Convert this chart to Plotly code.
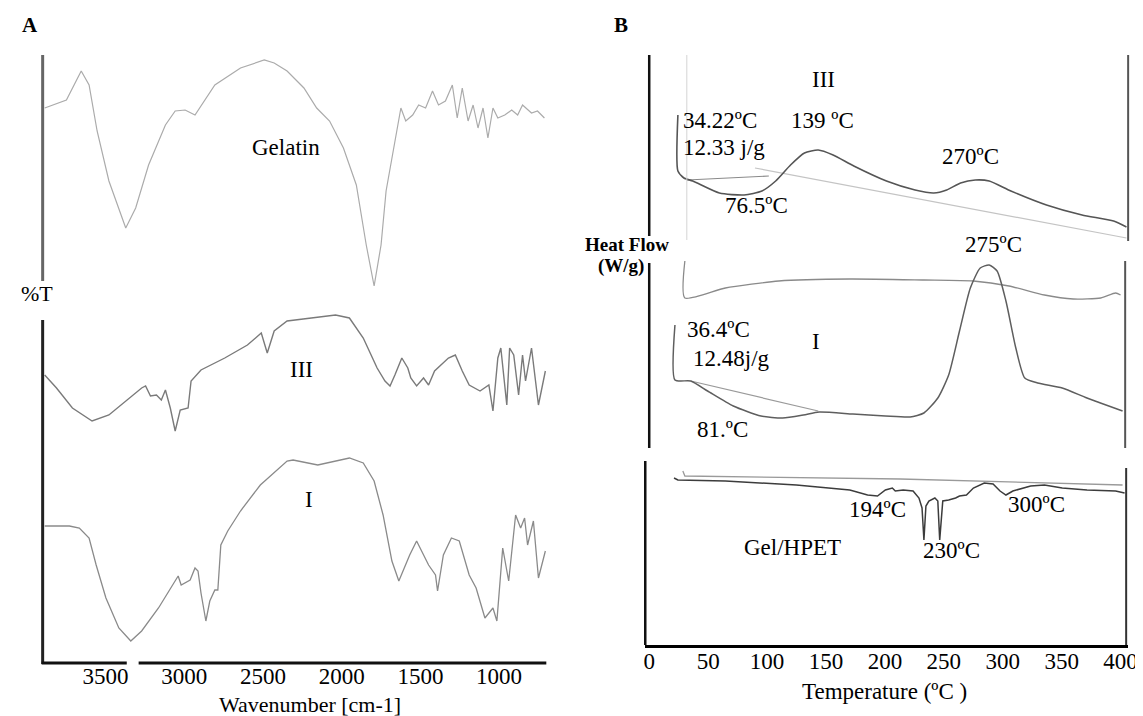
import plotly.graph_objects as go

W, H = 1143, 716
FONT = "Liberation Serif"

# ---------------- Panel A: FTIR spectra (wavenumber cm-1, relative %T, stacked) ----------------
gelatin_wn = [3887, 3749, 3655, 3605, 3554, 3479, 3372, 3309, 3227, 3120, 3058, 2995, 2932, 2806,
              2643, 2492, 2429, 2347, 2240, 2159, 2077, 1989, 1907, 1844, 1794, 1750, 1718, 1656,
              1624, 1593, 1549, 1511, 1467, 1423, 1385, 1341, 1297, 1266, 1234, 1197, 1165, 1134,
              1102, 1071, 1039, 1008, 964, 920, 882, 851, 794, 756, 712]
gelatin_t = [555, 563, 592, 578, 532, 482, 435, 455, 498, 538, 552, 553, 548, 578,
             595, 603, 600, 592, 575, 555, 542, 515, 478, 418, 377, 418, 472, 525,
             555, 542, 548, 558, 555, 572, 558, 562, 578, 545, 575, 542, 558, 535,
             555, 525, 555, 545, 548, 553, 548, 558, 550, 552, 545]

iii_wn = [3887, 3812, 3711, 3586, 3479, 3372, 3271, 3246, 3215, 3177, 3146, 3120, 3089, 3058,
          3026, 2976, 2957, 2894, 2743, 2599, 2511, 2473, 2429, 2347, 2196, 2039, 1951, 1863,
          1819, 1775, 1725, 1693, 1662, 1618, 1580, 1561, 1524, 1480, 1448, 1410, 1322, 1278,
          1234, 1190, 1121, 1065, 1039, 1008, 989, 951, 933, 907, 876, 851, 832, 794, 750, 706]
iii_t = [288, 275, 255, 242, 248, 262, 275, 277, 267, 268, 263, 273, 255, 232,
         253, 255, 282, 293, 305, 318, 330, 310, 332, 342, 345, 348, 345, 325,
         310, 295, 282, 277, 288, 305, 295, 285, 277, 285, 278, 292, 305, 308,
         292, 278, 272, 278, 252, 305, 315, 258, 315, 308, 268, 308, 282, 315, 258, 292]

i_wn = [3887, 3730, 3667, 3605, 3560, 3498, 3416, 3340, 3271, 3164, 3039, 3020, 2963, 2932,
        2913, 2894, 2863, 2838, 2806, 2787, 2768, 2724, 2643, 2517, 2347, 2309, 2152, 1951,
        1863, 1794, 1737, 1681, 1637, 1605, 1568, 1524, 1492, 1448, 1404, 1391, 1354, 1303,
        1253, 1190, 1146, 1090, 1039, 1014, 977, 939, 895, 863, 838, 819, 782, 750, 706]
i_t = [137, 137, 135, 125, 98, 65, 35, 22, 32, 55, 87, 78, 83, 95,
       92, 70, 42, 62, 73, 73, 118, 132, 152, 178, 202, 203, 198, 205,
       200, 182, 148, 102, 82, 95, 108, 122, 112, 98, 88, 72, 108, 125,
       122, 88, 75, 45, 55, 42, 115, 82, 148, 135, 145, 118, 142, 85, 112]

wn_ticks = [3500, 3000, 2500, 2000, 1500, 1000]

# ---------------- Panel B: DSC thermograms (temperature degC, relative heat flow, stacked) ----------------
dsc3_temp = [24.3, 24.3, 29.4, 36.9, 59.5, 80.5, 95.6, 107.3, 119.9, 131.7, 143.4, 156.0, 173.6,
             201.3, 225.6, 241.5, 252.4, 264.2, 276.7, 288.5, 306.9, 337.1, 367.3, 394.1, 405.0]
dsc3_hf = [530, 474, 467, 464, 452, 450, 454, 464, 480, 492, 495, 490, 479,
           464, 455, 452, 455, 462, 465, 464, 454, 440, 430, 424, 418]
dsc3_base_temp = [31.9, 101.5]
dsc3_base_hf = [465, 469]
dsc3_ref_temp = [89.7, 405.0]
dsc3_ref_hf = [477, 407]

dsc1_top_temp = [30.2, 30.2, 64.6, 109.9, 170.2, 233.1, 275.1, 305.3, 335.4, 359.8, 383.2, 395.8, 400.0]
dsc1_top_hf = [384, 347, 357, 364, 366, 365, 364, 359, 350, 346, 347, 352, 350]
dsc1_temp = [21.8, 21.8, 35.2, 49.5, 71.3, 94.8, 113.2, 130.8, 144.2, 172.8, 200.4, 221.4, 233.1,
             244.9, 254.1, 263.3, 272.5, 280.9, 288.5, 295.2, 302.7, 311.1, 318.7, 329.6, 350.5,
             371.5, 401.7]
dsc1_hf = [320, 265, 264, 254, 239, 229, 227, 230, 233, 231, 229, 228, 232,
           247, 270, 314, 357, 377, 380, 374, 344, 297, 267, 262, 257,
           247, 234]
dsc1_base_temp = [35.2, 143.4]
dsc1_base_hf = [264, 234]

gel_ref_temp = [28.5, 30.2, 213.0, 401.7]
gel_ref_hf = [174, 169, 166, 160]
gel_temp = [21.0, 24.3, 64.6, 124.9, 170.2, 185.3, 193.7, 200.4, 206.3, 208.8, 215.5, 223.9, 228.9,
            231.5, 233.1, 234.8, 237.3, 242.4, 244.9, 246.5, 249.1, 254.1, 260.0, 263.3, 269.2,
            275.1, 284.3, 291.8, 297.7, 302.7, 308.6, 323.7, 335.4, 350.5, 371.5, 395.8, 403.4]
gel_hf = [167, 165, 164, 160, 155, 150, 149, 155, 157, 154, 155, 154, 147,
          137, 105, 139, 144, 147, 144, 105, 144, 145, 147, 149, 150,
          157, 162, 161, 154, 150, 154, 159, 160, 157, 155, 154, 152]

temp_ticks = [0, 50, 100, 150, 200, 250, 300, 350, 400]

# serif labels sit a little low in plotly, lift them by this many pixels
TEXT_LIFT = 7


def px(x, y):
    """pixel position in the picture -> paper coordinates"""
    return x / W, 1 - y / H


def seg(x0, y0, x1, y1, color="black", width=2.5):
    a, b = px(x0, y0)
    c, d = px(x1, y1)
    return dict(type="line", xref="paper", yref="paper", x0=a, y0=b, x1=c, y1=d,
                line=dict(color=color, width=width))


def label(text, x, y, size=23, align="center", bold=False):
    a, b = px(x, y - TEXT_LIFT)
    return dict(text=f"<b>{text}</b>" if bold else text, x=a, y=b, xref="paper", yref="paper",
                xanchor={"center": "center", "left": "left"}[align], yanchor="middle",
                showarrow=False, font=dict(family=FONT, size=size, color="black"))


fig = go.Figure()

ftir = [
    (gelatin_wn, gelatin_t, "#ababab", 1.2),
    (iii_wn, iii_t, "#7a7a7a", 1.4),
    (i_wn, i_t, "#8a8a8a", 1.3),
]
for xs, ys, color, width in ftir:
    fig.add_trace(go.Scatter(x=xs, y=ys, mode="lines", line=dict(color=color, width=width),
                             xaxis="x", yaxis="y", hoverinfo="skip"))

dsc = [
    (dsc3_ref_temp, dsc3_ref_hf, "#c4c4c4", 1.2, "linear"),
    (dsc3_base_temp, dsc3_base_hf, "#8a8a8a", 1.2, "linear"),
    (dsc3_temp, dsc3_hf, "#555555", 1.6, "spline"),
    (dsc1_top_temp, dsc1_top_hf, "#8a8a8a", 1.3, "spline"),
    (dsc1_base_temp, dsc1_base_hf, "#9a9a9a", 1.2, "linear"),
    (dsc1_temp, dsc1_hf, "#5e5e5e", 1.5, "spline"),
    (gel_ref_temp, gel_ref_hf, "#9a9a9a", 1.3, "linear"),
    (gel_temp, gel_hf, "#3c3c3c", 1.5, "linear"),
]
for xs, ys, color, width, shape in dsc:
    fig.add_trace(go.Scatter(x=xs, y=ys, mode="lines",
                             line=dict(color=color, width=width, shape=shape, smoothing=0.6),
                             xaxis="x2", yaxis="y2", hoverinfo="skip"))

tickfont = dict(family=FONT, size=23, color="black")
fig.update_layout(
    width=W, height=H, margin=dict(l=0, r=0, t=0, b=0),
    paper_bgcolor="white", plot_bgcolor="white", showlegend=False,
    xaxis=dict(domain=[33 / W, 542 / W], range=[3900, 700], anchor="y",
               tickvals=wn_ticks, tickfont=tickfont, ticks="", ticklabelstandoff=-3,
               showgrid=False, zeroline=False, showline=False),
    yaxis=dict(domain=[1 - 655 / H, 1 - 47 / H], range=[0, 608], anchor="x", visible=False),
    xaxis2=dict(domain=[642 / W, 1129.5 / W], range=[-3.4, 406], anchor="y2",
                tickvals=temp_ticks, tickfont=tickfont, ticks="", ticklabelstandoff=-6,
                showgrid=False, zeroline=False, showline=True, linecolor="black", linewidth=2.5),
    yaxis2=dict(domain=[1 - 637 / H, 1 - 47 / H], range=[0, 590], anchor="x2", visible=False),
)

fig.update_layout(shapes=[
    # panel A frame
    seg(33, 47, 33, 273, "#666666", 3),
    seg(33, 312, 33, 656, "#222222", 3),
    seg(32, 655, 118, 655, "#111111", 3),
    seg(130, 655, 542, 655, "#111111", 3),
    # panel B frames
    seg(646, 47, 646, 228, "#111111", 2.5),
    seg(646, 255, 646, 440, "#111111", 2.5),
    seg(642, 453, 642, 637, "#111111", 2.5),
    seg(1130, 47, 1130, 233, "#555555", 2),
    seg(1127, 253, 1127, 440, "#555555", 2),
    seg(1128, 460, 1128, 637, "#333333", 2),
    seg(684, 47, 684, 232, "#d4d4d4", 1),
])

fig.update_layout(annotations=[
    label("A", 20, 24, 21, bold=True),
    label("%T", 27, 292, 22),
    label("Gelatin", 279, 147),
    label("III", 295, 368),
    label("I", 302, 498),
    label("Wavenumber [cm-1]", 303, 703, 22),
    label("B", 617, 24, 21, bold=True),
    label("III", 822, 78),
    label("34.22ºC", 678, 120, 23, "left"),
    label("12.33 j/g", 678, 147, 23, "left"),
    label("139 ºC", 821, 120),
    label("270ºC", 971, 155),
    label("76.5ºC", 754, 204),
    label("Heat Flow", 624, 243, 19, bold=True),
    label("(W/g)", 617, 265, 19, bold=True),
    label("275ºC", 994, 243),
    label("36.4ºC", 682, 328, 23, "left"),
    label("12.48j/g", 688, 357, 23, "left"),
    label("I", 815, 340),
    label("81.ºC", 720, 428),
    label("194ºC", 877, 508),
    label("300ºC", 1037, 503),
    label("Gel/HPET", 791, 546),
    label("230ºC", 951, 549),
    label("Temperature (ºC )", 884, 690),
])

fig.write_html("out.html")
